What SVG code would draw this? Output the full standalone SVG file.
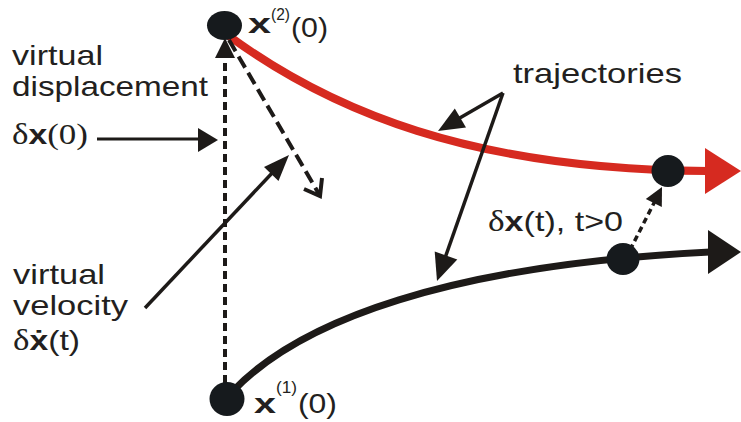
<svg xmlns="http://www.w3.org/2000/svg" width="741" height="422" viewBox="0 0 741 422">
<style>
.t{font-family:"Liberation Sans",Arial,"DejaVu Sans",sans-serif;font-size:28px;fill:#231f20}
.s{font-family:"Liberation Serif","Times New Roman",serif;font-size:29px;fill:#231f20}
.b{font-weight:bold}
.sup{font-size:17px}
.node{fill:#161a1d}
.ln{stroke:#1d1a18;fill:none}
.hd{fill:#1d1a18}
</style>
<rect width="741" height="422" fill="#fff"/>
<g id="connectors">
  <path id="red-trajectory" d="M229,36 C330,110 470,170 708,171" stroke="#d62a20" stroke-width="8" fill="none"/>
  <polygon points="705,148 741,171 705,194" fill="#d62a20"/>
  <path id="black-trajectory" class="ln" d="M232,392 C300,320 450,265 710,252" stroke-width="7"/>
  <polygon class="hd" points="708,230 741,252 708,274"/>
  <line class="ln" x1="225" y1="383" x2="225" y2="58" stroke-width="4" stroke-dasharray="8 5"/>
  <polygon class="hd" points="225,38 215,58 235,58"/>
  <line class="ln" x1="229" y1="40" x2="319" y2="194" stroke-width="4" stroke-dasharray="13 6"/>
  <polyline class="ln" points="304,189 320,196 322,178" stroke-width="4"/>
  <line class="ln" x1="97" y1="139" x2="202" y2="139" stroke-width="3"/>
  <polygon class="hd" points="218,140 198,128 198,152"/>
  <line class="ln" x1="145" y1="308" x2="274" y2="171" stroke-width="3.5"/>
  <polygon class="hd" points="289,155 278.5,181 264,167"/>
  <line class="ln" x1="503" y1="93" x2="458" y2="119" stroke-width="3.5"/>
  <polygon class="hd" points="438,131 466,127.4 454.8,108.4"/>
  <line class="ln" x1="503" y1="93" x2="445" y2="258" stroke-width="3.5"/>
  <polygon class="hd" points="437,281 457.3,259.5 434.7,251.5"/>
  <line class="ln" x1="630" y1="250" x2="655" y2="201" stroke-width="3.5" stroke-dasharray="6 4"/>
  <polygon class="hd" points="662,187 661.8,207.1 645.8,198.9"/>
</g>
<g id="node-x2">
  <ellipse class="node" cx="224.5" cy="25.5" rx="17.5" ry="14.5"/>
  <text class="t b" x="248" y="33" textLength="23" lengthAdjust="spacingAndGlyphs">x</text>
  <text class="t sup" x="271" y="20" textLength="19" lengthAdjust="spacingAndGlyphs">(2)</text>
  <text class="t" x="291" y="37" textLength="37" lengthAdjust="spacingAndGlyphs">(0)</text>
</g>
<g id="node-x1">
  <ellipse class="node" cx="227" cy="399" rx="17.5" ry="17"/>
  <text class="t b" x="254" y="413" textLength="22" lengthAdjust="spacingAndGlyphs">x</text>
  <text class="t sup" x="276" y="393" textLength="21" lengthAdjust="spacingAndGlyphs">(1)</text>
  <text class="t" x="298" y="413" textLength="39" lengthAdjust="spacingAndGlyphs">(0)</text>
</g>
<g id="node-red-t">
  <ellipse class="node" cx="668" cy="171" rx="16.5" ry="16"/>
</g>
<g id="node-black-t">
  <ellipse class="node" cx="623" cy="259" rx="16.5" ry="16"/>
</g>
<g id="label-displacement">
  <text class="t" x="12" y="65" textLength="91" lengthAdjust="spacingAndGlyphs">virtual</text>
  <text class="t" x="12" y="96" textLength="196" lengthAdjust="spacingAndGlyphs">displacement</text>
  <text x="12" y="144" textLength="76" lengthAdjust="spacingAndGlyphs"><tspan class="s">δ</tspan><tspan class="t b">x</tspan><tspan class="s">(0)</tspan></text>
</g>
<g id="label-velocity">
  <text class="t" x="13" y="284" textLength="92" lengthAdjust="spacingAndGlyphs">virtual</text>
  <text class="t" x="13" y="315" textLength="115" lengthAdjust="spacingAndGlyphs">velocity</text>
  <text x="13" y="350" textLength="67" lengthAdjust="spacingAndGlyphs"><tspan class="s">δ</tspan><tspan class="t b">ẋ</tspan><tspan class="t">(t)</tspan></text>
</g>
<g id="label-trajectories">
  <text class="t" x="513" y="83" textLength="169" lengthAdjust="spacingAndGlyphs">trajectories</text>
</g>
<g id="label-dxt">
  <text x="488" y="231" textLength="135" lengthAdjust="spacingAndGlyphs"><tspan class="s">δ</tspan><tspan class="t b">x</tspan><tspan class="t">(t), t&gt;0</tspan></text>
</g>
</svg>
